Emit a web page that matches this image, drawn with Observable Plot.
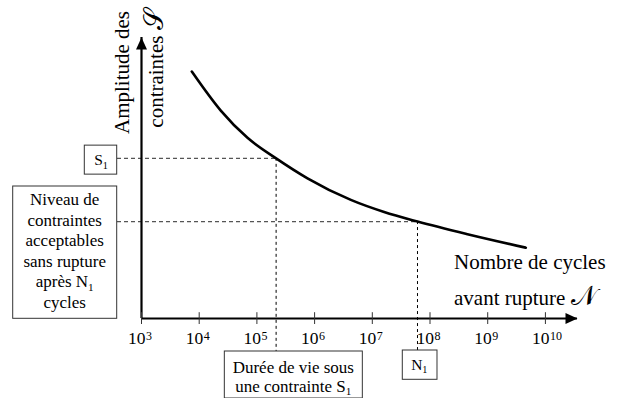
<!DOCTYPE html>
<html><head><meta charset="utf-8">
<script src="https://cdn.jsdelivr.net/npm/d3@7"></script>
<script src="https://cdn.jsdelivr.net/npm/@observablehq/plot@0.6"></script>
<style>body{margin:0;background:#fff} svg{display:block} text{font-family:"Liberation Serif", serif}</style>
</head><body><div id="chart"></div>
<script>
// Wöhler (S-N) curve
const cyclesN = [7447, 23660, 68710, 215300, 753400, 4246000, 16030000, 60670000, 446700000, 4571000000];
const stressS = [87.9, 74.0, 64.3, 57.0, 49.9, 42.2, 37.9, 34.5, 30.0, 25.2];
const decadeExponents = [3, 4, 5, 6, 7, 8, 9, 10];
const tickBase = "10";
const pointS1 = {N: 215300, S: 57.0};
const pointN1 = {N: 60670000, S: 34.5};
const yTitleLines = [["Amplitude des"], ["contraintes ", "𝒮"]];
const xTitleLines = [["Nombre de cycles"], ["avant rupture ", "𝒩"]];
const labelS1 = ["S", "1"];
const labelN1 = ["N", "1"];
const levelBoxLines = [["Niveau de"], ["contraintes"], ["acceptables"], ["sans rupture"], ["après N", "1"], ["cycles"]];
const lifeBoxLines = [["Durée de vie sous"], ["une contrainte S", "1"]];

const xMax = 10 ** 10.556;
const curve = cyclesN.map((n, i) => ({N: n, S: stressS[i]}));
const arrowSym = {draw(ctx) { ctx.moveTo(0, 0); ctx.lineTo(-5.5, 12); ctx.lineTo(5.5, 12); ctx.closePath(); }};
const tickSym = {draw(ctx) { ctx.moveTo(0, -6.3); ctx.lineTo(0, 5.5); }};
const FONT = "Liberation Serif";

const plot = Plot.plot({
  width: 618, height: 398,
  marginLeft: 141, marginRight: 41, marginTop: 37, marginBottom: 80,
  style: {fontFamily: FONT, background: "#fff", color: "#000", overflow: "visible"},
  x: {type: "log", domain: [1e3, xMax], axis: null},
  y: {domain: [0, 100], axis: null},
  marks: [
    // dashed guides
    Plot.ruleY([pointS1], {y: "S", x1: () => 1e3, x2: "N", insetLeft: -24, stroke: "#555", strokeWidth: 1.2, strokeDasharray: "4,3"}),
    Plot.ruleY([pointN1], {y: "S", x1: () => 1e3, x2: "N", insetLeft: -24, stroke: "#555", strokeWidth: 1.2, strokeDasharray: "4,3"}),
    Plot.ruleX([pointS1], {x: "N", y1: "S", y2: () => 0, insetBottom: -33, stroke: "#000", strokeWidth: 1, strokeDasharray: "3,3"}),
    Plot.ruleX([pointN1], {x: "N", y1: "S", y2: () => 0, insetBottom: -32, stroke: "#000", strokeWidth: 1, strokeDasharray: "3,3"}),
    // axes
    Plot.ruleY([0], {x1: () => 1e3, x2: () => xMax, stroke: "#000", strokeWidth: 2.2}),
    Plot.ruleX([1e3], {y1: () => 0, y2: () => 100, stroke: "#000", strokeWidth: 2.2}),
    Plot.dot([0], {x: () => xMax, y: () => 0, symbol: arrowSym, rotate: 90, fill: "#000", stroke: "none"}),
    Plot.dot([0], {x: () => 1e3, y: () => 100, symbol: arrowSym, fill: "#000", stroke: "none"}),
    Plot.dot(decadeExponents, {x: e => 10 ** e, y: () => 0, symbol: tickSym, fill: "none", stroke: "#333", strokeWidth: 1}),
    Plot.text(decadeExponents, {x: e => 10 ** e, y: () => 0, text: () => tickBase, textAnchor: "end", dx: 4, dy: 19.9, fontSize: 17.5, fontFamily: FONT}),
    Plot.text(decadeExponents, {x: e => 10 ** e, y: () => 0, text: e => String(e), textAnchor: "start", dx: 4.5, dy: 17.8, fontSize: 12, fontFamily: FONT}),
    // the curve
    Plot.line(curve, {x: "N", y: "S", curve: "monotone-x", stroke: "#000", strokeWidth: 2.6})
  ]
});
document.getElementById("chart").append(plot);

const sx = plot.scale("x"), sy = plot.scale("y");
const X = v => sx.apply(v), Y = v => sy.apply(v);
const svg = d3.select(plot);
const g = svg.append("g").attr("font-family", FONT).attr("fill", "#000");
const x0 = X(1e3), y0 = Y(0);

function label(sel, parts, x, y, size, anchor) {
  const t = sel.append("text").attr("x", x).attr("y", y).attr("font-size", size).attr("text-anchor", anchor || "middle");
  t.append("tspan").text(parts[0]);
  if (parts[1]) t.append("tspan").attr("font-size", size * 0.66).attr("dy", size * 0.22).text(parts[1]);
  return t;
}
function title(parts, size) {
  const t = g.append("text").attr("font-size", size);
  t.append("tspan").text(parts[0]);
  if (parts[1]) t.append("tspan").attr("font-size", size * 1.3).text(parts[1]);
  return t;
}
function box(x1, y1, x2, y2) {
  g.append("rect").attr("x", x1).attr("y", y1).attr("width", x2 - x1).attr("height", y2 - y1)
    .attr("fill", "#fff").attr("stroke", "#333").attr("stroke-width", 1);
}
// S1 box
const ys1 = Y(pointS1.S);
box(x0 - 56.7, ys1 - 12.7, x0 - 24.3, ys1 + 16.3);
label(g, labelS1, x0 - 40, ys1 + 7.3, 15.5);
// level box
box(12.7, y0 - 132, x0 - 24.3, y0 + 0.3);
levelBoxLines.forEach((p, i) => label(g, p, (12.7 + x0 - 24.3) / 2, y0 - 113 + i * 20.5, 17));
// life box
const xs1 = X(pointS1.N);
box(xs1 - 51.3, y0 + 33, xs1 + 86.7, y0 + 80);
lifeBoxLines.forEach((p, i) => label(g, p, xs1 + 17.7, y0 + 55 + i * 18.5, 17));
// N1 box
const xn1 = X(pointN1.N);
box(xn1 - 14.7, y0 + 32, xn1 + 20, y0 + 61.3);
label(g, labelN1, xn1 + 2.3, y0 + 52, 15.5);
// axis titles
yTitleLines.forEach((p, i) => {
  title(p, 21).attr("transform", `translate(${i ? 163.3 : 128.5},${i ? 68.5 : 72.5}) rotate(-90)`)
    .attr("text-anchor", "middle");
});
xTitleLines.forEach((p, i) => {
  title(p, 21).attr("x", 454).attr("y", i ? 305 : 269.3).attr("text-anchor", "start");
});
</script></body></html>
